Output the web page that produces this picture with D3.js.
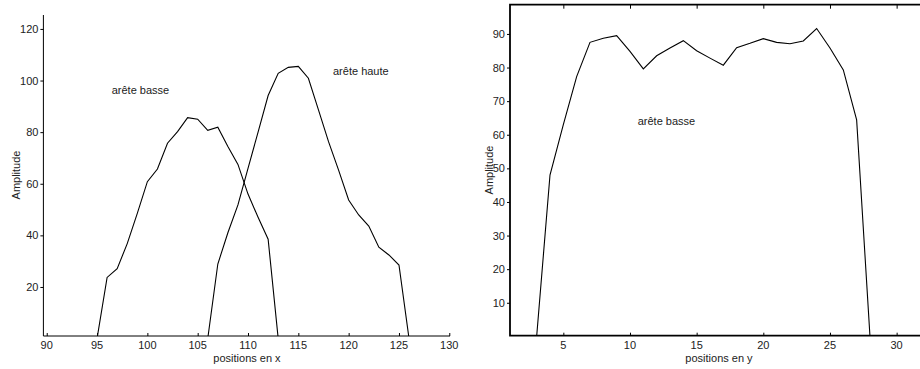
<!DOCTYPE html>
<html>
<head>
<meta charset="utf-8">
<script src="https://cdn.jsdelivr.net/npm/d3@7"></script>
<style>
  body { margin: 0; background: #fff; }
  text { font-family: "Liberation Sans", Arial, Helvetica, sans-serif; font-size: 11px; fill: #222; }
</style>
</head>
<body>
<script>
// data
var posX = [95, 96, 97, 98, 99, 100, 101, 102, 103, 104, 105, 106, 107, 108, 109, 110, 111, 112, 113];
var areteBasseX = [0, 23.7, 27.1, 36.8, 48.5, 60.8, 65.7, 75.7, 80.2, 85.6, 85.0, 80.7, 81.9, 74.4, 67.5, 56, 47, 38.5, 0];
var posXHaute = [106, 107, 108, 109, 110, 111, 112, 113, 114, 115, 116, 117, 118, 119, 120, 121, 122, 123, 124, 125, 126];
var areteHauteX = [0, 28.9, 41, 51.8, 66, 80, 94.2, 102.8, 105.1, 105.5, 100.9, 88.6, 76.3, 65.3, 53.7, 47.9, 43.6, 35.4, 32.4, 28.5, 0];
var posY = [3, 4, 5, 6, 7, 8, 9, 10, 11, 12, 13, 14, 15, 16, 17, 18, 19, 20, 21, 22, 23, 24, 25, 26, 27, 28];
var areteBasseY = [0, 48.0, 63, 77.3, 87.5, 88.7, 89.5, 84.8, 79.6, 83.5, 85.8, 88.0, 85.0, 82.8, 80.7, 85.9, 87.2, 88.6, 87.5, 87.1, 87.9, 91.6, 85.8, 79.3, 64.4, 0];
var ticksXL = [90, 95, 100, 105, 110, 115, 120, 125, 130];
var ticksYL = [20, 40, 60, 80, 100, 120];
var ticksXR = [5, 10, 15, 20, 25, 30];
var ticksYR = [10, 20, 30, 40, 50, 60, 70, 80, 90];

var svg = d3.select("body").append("svg")
  .attr("width", 920)
  .attr("height", 369);

var line = function(x, y) {
  return d3.line().x(function(d) { return x(d[0]); }).y(function(d) { return y(d[1]); });
};

// left panel
var xL = d3.scaleLinear().domain([89.67, 130.07]).range([43.4, 450]);
var yL = d3.scaleLinear().domain([1, 125.4]).range([336, 15]);

svg.append("clipPath").attr("id", "clipL").append("rect")
  .attr("x", 43.4).attr("y", 15).attr("width", 450 - 43.4).attr("height", 336 - 15);
svg.append("clipPath").attr("id", "clipR").append("rect")
  .attr("x", 510).attr("y", 4.7).attr("width", 420).attr("height", 335.7 - 4.7);

var gL = svg.append("g");
gL.append("g").attr("transform", "translate(0,336)")
  .call(d3.axisTop(xL).tickValues(ticksXL).tickSize(3).tickFormat(""))
  .call(function(g) { g.select(".domain").remove(); });
gL.selectAll(".xlab").data(ticksXL).enter().append("text")
  .attr("x", function(d) { return xL(d); }).attr("y", 348.5)
  .attr("text-anchor", "middle").text(function(d) { return d; });
gL.append("g").attr("transform", "translate(43.4,0)")
  .call(d3.axisLeft(yL).tickValues(ticksYL).tickSize(3).tickPadding(2))
  .call(function(g) { g.select(".domain").remove(); g.selectAll("text").style("font-size", "11px"); });
gL.append("path").attr("d", "M43.4,15V336H450").attr("fill", "none").attr("stroke", "#000");

gL.append("path").datum(d3.zip(posX, areteBasseX))
  .attr("clip-path", "url(#clipL)")
  .attr("d", line(xL, yL)).attr("fill", "none").attr("stroke", "#000").attr("stroke-width", 1.1);
gL.append("path").datum(d3.zip(posXHaute, areteHauteX))
  .attr("clip-path", "url(#clipL)")
  .attr("d", line(xL, yL)).attr("fill", "none").attr("stroke", "#000").attr("stroke-width", 1.1);

gL.append("text").attr("x", 111.7).attr("y", 93.5).text("arête basse");
gL.append("text").attr("x", 333).attr("y", 74.5).text("arête haute");
gL.append("text").attr("x", 247).attr("y", 361.5).attr("text-anchor", "middle").text("positions en x");
gL.append("text").attr("transform", "translate(19.5,175) rotate(-90)").attr("text-anchor", "middle").text("Amplitude");

// right panel
var xR = d3.scaleLinear().domain([1, 32]).range([510, 923.3]);
var yR = d3.scaleLinear().domain([0.2, 98.7]).range([335.7, 4.7]);

var gR = svg.append("g");
gR.append("g").attr("transform", "translate(0,335.7)")
  .call(d3.axisTop(xR).tickValues(ticksXR).tickSize(3).tickFormat(""))
  .call(function(g) { g.select(".domain").remove(); });
gR.append("g").attr("transform", "translate(0,4.7)")
  .call(d3.axisBottom(xR).tickValues(ticksXR).tickSize(4).tickFormat(""))
  .call(function(g) { g.select(".domain").remove(); });
gR.selectAll(".xlab").data(ticksXR).enter().append("text")
  .attr("x", function(d) { return xR(d); }).attr("y", 348.5)
  .attr("text-anchor", "middle").text(function(d) { return d; });
gR.append("g").attr("transform", "translate(510,0)")
  .call(d3.axisLeft(yR).tickValues(ticksYR).tickSize(3).tickPadding(2))
  .call(function(g) { g.select(".domain").remove(); g.selectAll("text").style("font-size", "11px"); });
gR.append("path").attr("d", "M925,4.7H510V335.7H925").attr("fill", "none").attr("stroke", "#000").attr("stroke-width", 1.8);

gR.append("path").datum(d3.zip(posY, areteBasseY))
  .attr("clip-path", "url(#clipR)")
  .attr("d", line(xR, yR)).attr("fill", "none").attr("stroke", "#000").attr("stroke-width", 1.1);

gR.append("text").attr("x", 637.7).attr("y", 124.5).text("arête basse");
gR.append("text").attr("x", 719).attr("y", 361.5).attr("text-anchor", "middle").text("positions en y");
gR.append("text").attr("transform", "translate(492.5,170) rotate(-90)").attr("text-anchor", "middle").text("Amplitude");
</script>
</body>
</html>
